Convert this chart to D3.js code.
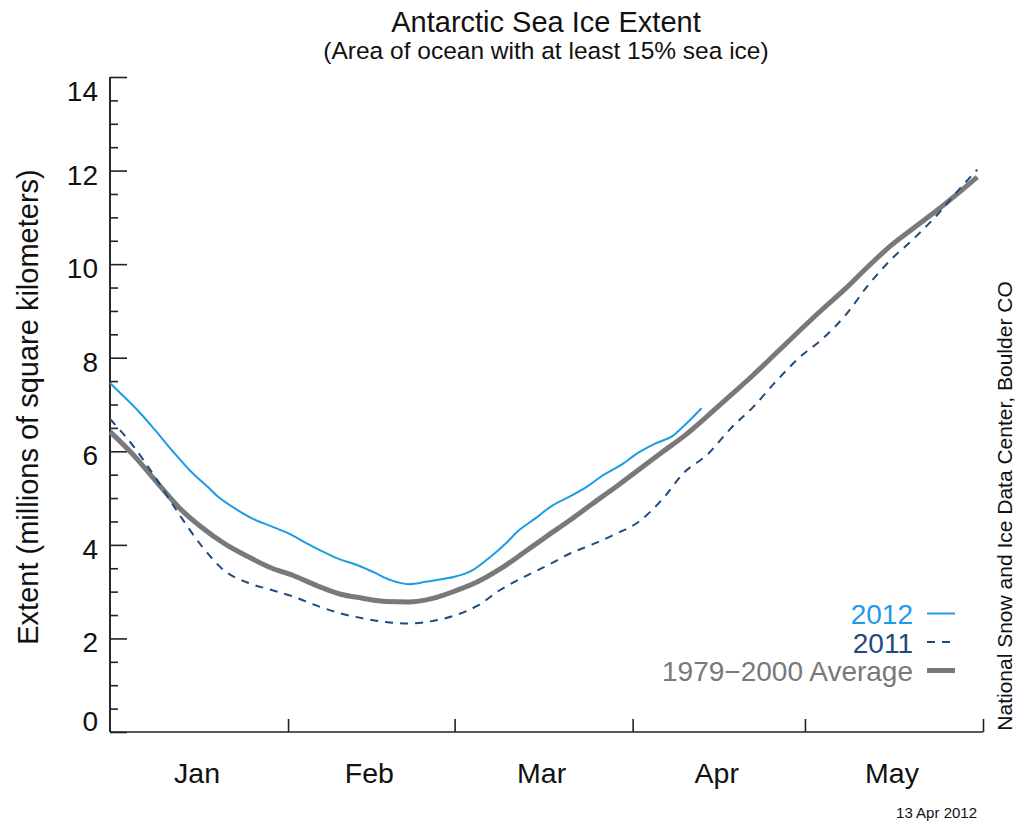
<!DOCTYPE html>
<html>
<head>
<meta charset="utf-8">
<script src="https://cdn.jsdelivr.net/npm/d3@7/dist/d3.min.js"></script>
<style>
  html, body { margin: 0; padding: 0; background: #fff; }
  svg { display: block; }
  text { font-family: Helvetica, "Liberation Sans", Arial, sans-serif; }
</style>
</head>
<body>
<svg id="chart" width="1021" height="823"></svg>
<script>
// ---- data (day index from 1 Jan, extent in millions of km²) ----
const days2012 = [0,2,5,8,11,14,17,19,22,25,28,31,34,37,40,43,46,49,52,55,58,60,63,66,69,71,74,77,80,83,86,89,92,95,98,100,103];
const ext2012  = [7.46,7.22,6.85,6.43,5.99,5.58,5.24,5.01,4.76,4.55,4.40,4.25,4.05,3.86,3.69,3.57,3.41,3.24,3.16,3.21,3.27,3.32,3.45,3.72,4.04,4.29,4.56,4.84,5.03,5.24,5.50,5.71,5.97,6.17,6.33,6.55,6.92];

const daysGrid = [0,4,8,12,16,20,24,28,32,36,40,44,48,52,56,60,64,68,72,76,80,84,88,92,96,100,104,108,112,116,120,124,128,132,136,140,144,148,151];
const ext2011  = [6.69,6.12,5.42,4.66,3.97,3.44,3.19,3.04,2.89,2.70,2.54,2.43,2.35,2.32,2.37,2.49,2.70,3.04,3.31,3.55,3.81,4.01,4.23,4.49,4.95,5.55,5.93,6.48,6.95,7.50,8.00,8.40,8.90,9.55,10.10,10.55,11.05,11.62,12.02];
const extAvg   = [6.42,5.93,5.36,4.80,4.37,4.02,3.75,3.51,3.34,3.13,2.95,2.86,2.79,2.78,2.85,3.01,3.21,3.49,3.83,4.18,4.52,4.88,5.23,5.60,5.97,6.33,6.75,7.19,7.63,8.10,8.57,9.03,9.47,9.95,10.40,10.78,11.15,11.55,11.86];

const monthNames = ["Jan","Feb","Mar","Apr","May"];
const monthStarts = [0,31,60,91,121,152];
const yMajor = [0,2,4,6,8,10,12,14];
const yMinor = [0.5,1,1.5,2.5,3,3.5,4.5,5,5.5,6.5,7,7.5,8.5,9,9.5,10.5,11,11.5,12.5,13,13.5];

const seriesNames = ["2012","2011","1979\u22122000 Average"];
const seriesColors = ["#1f9be6","#1f4b7c","#797979"];

// ---- layout ----
const svg = d3.select("#chart");
const plotL = 110, plotR = 983, plotT = 77, plotB = 732;

const x = d3.scaleLinear().domain([0,152]).range([plotL,plotR]);
const y = d3.scaleLinear().domain([0,14]).range([plotB,plotT]);

// title
svg.append("text").attr("x",546).attr("y",32).attr("text-anchor","middle")
  .attr("font-size",29).attr("fill","#111").text("Antarctic Sea Ice Extent");
svg.append("text").attr("x",546).attr("y",59).attr("text-anchor","middle")
  .attr("font-size",24.5).attr("fill","#111").text("(Area of ocean with at least 15% sea ice)");

// y axis (ticks point inward)
const gy = svg.append("g").attr("transform",`translate(${plotL},0)`);
gy.call(d3.axisRight(y).tickValues(yMajor).tickSize(17).tickFormat(""));
const gyMinor = svg.append("g").attr("transform",`translate(${plotL},0)`);
gyMinor.call(d3.axisRight(y).tickValues(yMinor).tickSize(8).tickFormat(""));
[gy, gyMinor].forEach(g => {
  g.select(".domain").attr("d", `M0,${plotB}V${plotT}`).attr("stroke","#222").attr("stroke-width",1.6);
  g.selectAll(".tick line").attr("stroke","#222").attr("stroke-width",1.6);
});

// y tick labels
svg.append("g").selectAll("text").data(yMajor).join("text")
  .attr("x",98)
  .attr("y",d => y(d) + (d === 0 ? -1 : d === 14 ? 24 : 14))
  .attr("text-anchor","end").attr("font-size",28).attr("fill","#111")
  .text(d => d);

// x axis (ticks point up)
const gx = svg.append("g").attr("transform",`translate(0,${plotB})`);
gx.call(d3.axisTop(x).tickValues(monthStarts.slice(1)).tickSize(13).tickFormat(""));
gx.select(".domain").attr("d",`M${plotL},0H${plotR}`).attr("stroke","#222").attr("stroke-width",1.6);
gx.selectAll(".tick line").attr("stroke","#222").attr("stroke-width",1.6);

// month labels
svg.append("g").selectAll("text").data(monthNames).join("text")
  .attr("x",(d,i) => (x(monthStarts[i]) + x(monthStarts[i+1]))/2 - 2)
  .attr("y",783).attr("text-anchor","middle").attr("font-size",28.5).attr("fill","#111")
  .text(d => d);

// y axis title
svg.append("text").attr("transform","translate(38,407) rotate(-90)")
  .attr("text-anchor","middle").attr("font-size",29).attr("fill","#111")
  .text("Extent (millions of square kilometers)");

// right credit
svg.append("text").attr("transform","translate(1012,506) rotate(-90)")
  .attr("text-anchor","middle").attr("font-size",21).attr("fill","#111")
  .text("National Snow and Ice Data Center, Boulder CO");

// date
svg.append("text").attr("x",977).attr("y",818).attr("text-anchor","end")
  .attr("font-size",15).attr("fill","#111").text("13 Apr 2012");

// lines
const line = d3.line().x(d => x(d[0])).y(d => y(d[1])).curve(d3.curveMonotoneX);

svg.append("path").datum(daysGrid.map((d,i) => [d, extAvg[i]]))
  .attr("d",line).attr("fill","none").attr("stroke",seriesColors[2]).attr("stroke-width",5);
svg.append("path").datum(daysGrid.map((d,i) => [d, ext2011[i]]))
  .attr("d",line).attr("fill","none").attr("stroke",seriesColors[1]).attr("stroke-width",2)
  .attr("stroke-dasharray","8,7");
svg.append("path").datum(days2012.map((d,i) => [d, ext2012[i]]))
  .attr("d",line).attr("fill","none").attr("stroke",seriesColors[0]).attr("stroke-width",2);

// legend
const legY = [624,652.5,681];
const lg = svg.append("g");
seriesNames.forEach((name,i) => {
  lg.append("text").attr("x",913).attr("y",legY[i]).attr("text-anchor","end")
    .attr("font-size",28).attr("fill",seriesColors[i]).text(name);
  const ly = legY[i] - 10.5;
  lg.append("line").attr("x1",927).attr("x2",955).attr("y1",ly).attr("y2",ly)
    .attr("stroke",seriesColors[i]).attr("stroke-width",i === 2 ? 5 : 2)
    .attr("stroke-dasharray",i === 1 ? "8,7" : null);
});
</script>
</body>
</html>
